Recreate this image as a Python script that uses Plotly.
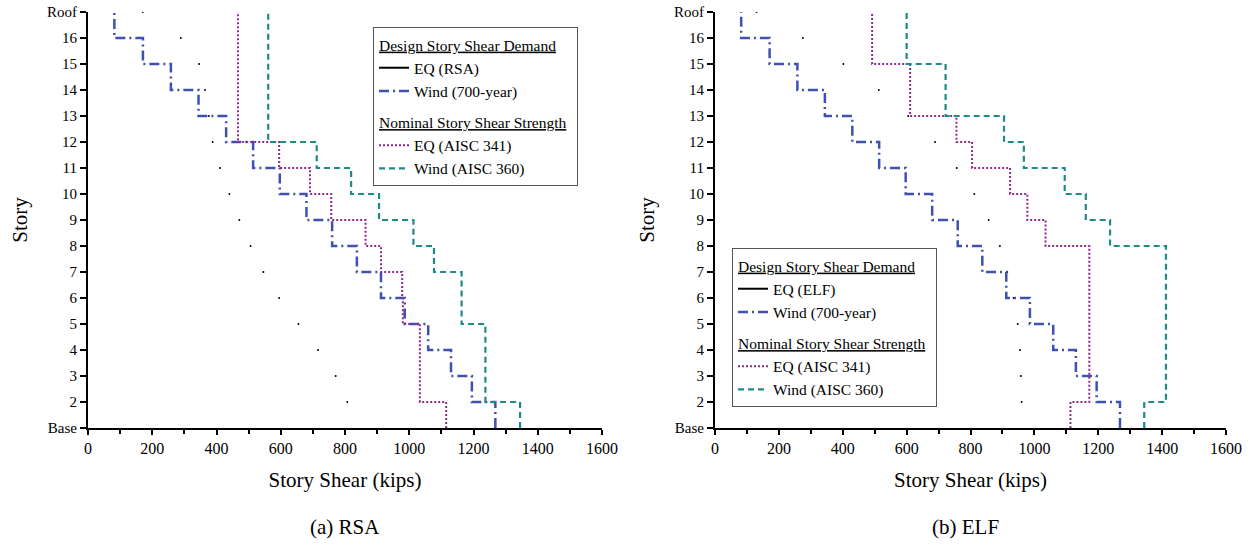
import plotly.graph_objects as go

# ---------------- data ----------------
level_labels = ["Base"] + [str(i) for i in range(2, 17)] + ["Roof"]
level_vals = list(range(1, 18))
stories = list(range(1, 17))          # story k spans level k to k+1

wind_demand = [1268, 1195, 1130, 1059, 986, 912, 837, 760, 680, 597, 514, 430, 344, 258, 171, 82]

rsa_eq_strength = [1115, 1033, 1033, 1033, 980, 978, 912, 864, 757, 691, 595, 467, 467, 467, 467, 467]
rsa_wind_strength = [1345, 1237, 1237, 1237, 1163, 1163, 1077, 1013, 906, 819, 712, 561, 561, 561, 561, 561]

elf_eq_strength = [1113, 1172, 1172, 1172, 1172, 1172, 1172, 1035, 978, 924, 805, 756, 611, 611, 492, 492]
elf_wind_strength = [1344, 1412, 1412, 1412, 1412, 1412, 1412, 1237, 1161, 1095, 967, 905, 722, 722, 600, 600]

eq_levels = list(range(2, 18))
rsa_eq_demand = [807, 771, 716, 655, 595, 546, 506, 471, 440, 411, 388, 376, 364, 346, 289, 170]
elf_eq_demand = [960, 958, 955, 948, 935, 915, 892, 857, 812, 757, 689, 605, 513, 402, 275, 130]

BLUE = "#3F51B0"
PURPLE = "#8E2A8E"
TEAL = "#1F8A86"
FONT = "Liberation Serif, Times New Roman, Times, DejaVu Serif, serif"


def step_xy(vals):
    xs = list(vals) + [vals[-1]]
    ys = stories + [17]
    return xs, ys


fig = go.Figure()

panels = [
    ("x", "y", "legend", "EQ (RSA)", rsa_eq_demand, rsa_eq_strength, rsa_wind_strength),
    ("x2", "y2", "legend2", "EQ (ELF)", elf_eq_demand, elf_eq_strength, elf_wind_strength),
]

for xa, ya, lg, eqname, eqd, eqs, ws in panels:
    g1 = "Design Story Shear Demand"
    g2 = "Nominal Story Shear Strength"
    fig.add_trace(go.Scatter(x=eqd, y=eq_levels, mode="markers", xaxis=xa, yaxis=ya,
                             marker=dict(color="black", size=2), showlegend=False,
                             hoverinfo="x+y"))
    fig.add_trace(go.Scatter(x=[None], y=[None], mode="lines", xaxis=xa, yaxis=ya,
                             line=dict(color="black", width=2), name=eqname,
                             legend=lg, legendgroup=g1,
                             legendgrouptitle=dict(text="<u>" + g1 + "</u>")))
    wx, wy = step_xy(wind_demand)
    fig.add_trace(go.Scatter(x=wx, y=wy, mode="lines", line_shape="vh", xaxis=xa, yaxis=ya,
                             line=dict(color=BLUE, width=2.5, dash="10px,4px,2px,4px"),
                             name="Wind (700-year)", legend=lg, legendgroup=g1))
    ex, ey = step_xy(eqs)
    fig.add_trace(go.Scatter(x=ex, y=ey, mode="lines", line_shape="vh", xaxis=xa, yaxis=ya,
                             line=dict(color=PURPLE, width=2, dash="2px,2px"),
                             name="EQ (AISC 341)", legend=lg, legendgroup=g2,
                             legendgrouptitle=dict(text="<u>" + g2 + "</u>")))
    tx, ty = step_xy(ws)
    fig.add_trace(go.Scatter(x=tx, y=ty, mode="lines", line_shape="vh", xaxis=xa, yaxis=ya,
                             line=dict(color=TEAL, width=2.2, dash="6px,4px"),
                             name="Wind (AISC 360)", legend=lg, legendgroup=g2))

W, H = 1259, 557
xdom1 = [88 / W, 602 / W]
xdom2 = [715 / W, 1226 / W]
ydom = [(H - 428) / H, (H - 12) / H]

xaxis_common = dict(range=[0, 1600], tickvals=list(range(0, 1601, 200)), automargin=False,
                    ticks="outside", ticklen=5, tickwidth=1.5, tickcolor="black",
                    minor=dict(tickvals=list(range(100, 1600, 200)), ticks="outside",
                               ticklen=4, tickwidth=1.5, tickcolor="black"),
                    showline=True, linewidth=2, linecolor="black", showgrid=False,
                    zeroline=False, tickfont=dict(family=FONT, size=16, color="black"),
                    title=dict(text="Story Shear (kips)", standoff=16,
                               font=dict(family=FONT, size=21, color="black")))
yaxis_common = dict(range=[1, 17], tickvals=level_vals, ticktext=level_labels, automargin=False,
                    ticks="outside", ticklen=6, tickwidth=1.5, tickcolor="black",
                    showline=True, linewidth=2, linecolor="black", showgrid=False,
                    zeroline=False, tickfont=dict(family=FONT, size=15, color="black"),
                    title=dict(text="Story", standoff=14,
                               font=dict(family=FONT, size=21, color="black")))

legend_common = dict(bgcolor="white", bordercolor="#555555", borderwidth=1,
                     font=dict(family=FONT, size=15.5, color="black"),
                     grouptitlefont=dict(family=FONT, size=15.5, color="black"),
                     tracegroupgap=8, traceorder="grouped",
                     xanchor="left", yanchor="top", itemwidth=30)

fig.update_layout(
    width=W, height=H,
    margin=dict(l=0, r=0, t=0, b=0, autoexpand=False),
    paper_bgcolor="white", plot_bgcolor="white",
    font=dict(family=FONT, color="black"),
    xaxis=dict(domain=xdom1, anchor="y", **xaxis_common),
    yaxis=dict(domain=ydom, anchor="x", **yaxis_common),
    xaxis2=dict(domain=xdom2, anchor="y2", **xaxis_common),
    yaxis2=dict(domain=ydom, anchor="x2", **yaxis_common),
    legend=dict(x=373 / W, y=1 - 27 / H, **legend_common),
    legend2=dict(x=732 / W, y=1 - 248 / H, **legend_common),
    annotations=[
        dict(text="(a) RSA", x=345 / W, y=1 - 527 / H, xref="paper", yref="paper",
             xanchor="center", yanchor="middle",
             showarrow=False, font=dict(family=FONT, size=21, color="black")),
        dict(text="(b) ELF", x=965 / W, y=1 - 527 / H, xref="paper", yref="paper",
             xanchor="center", yanchor="middle",
             showarrow=False, font=dict(family=FONT, size=21, color="black")),
    ],
)

fig.write_html("out.html", config={"displayModeBar": False},
               post_script="document.body.style.margin='0px';")
